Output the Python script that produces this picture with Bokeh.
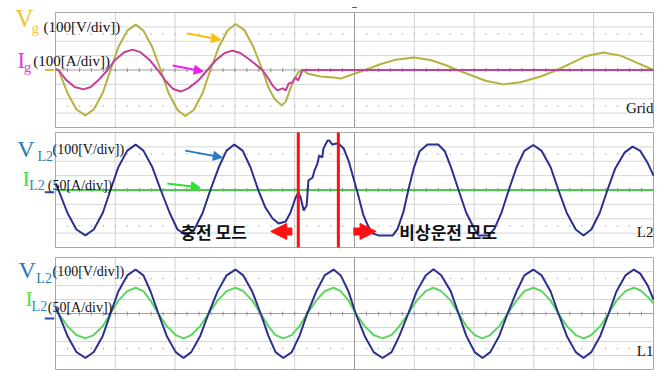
import numpy as np
from bokeh.plotting import figure
from bokeh.layouts import column
from bokeh.models import Range1d, Label, Arrow, NormalHead
from bokeh.embed import file_html
from bokeh.resources import INLINE

# ---------------- data (time in ms, 10 ms/div; voltage in V; current in A) ----------------
# Panel 1: grid voltage / current
grid_t = [0.0, 0.5, 2.0, 3.5, 5.0, 6.4, 7.9, 9.2, 10.5, 12.0,
          13.4, 14.7, 16.2, 17.6, 18.9, 20.4, 21.7, 23.1, 24.6, 25.9,
          27.3, 28.8, 30.1, 31.6, 33.1, 34.6, 35.6, 36.6, 37.8, 38.5,
          39.3, 39.8, 40.6, 41.3, 42.1, 44.3, 46.5, 47.7, 49.7, 51.8,
          54.3, 56.9, 59.9, 62.7, 65.2, 67.2, 69.4, 71.9, 74.9, 77.8,
          81.1, 83.9, 86.1, 88.6, 91.6, 94.5, 97.0, 100.0]
grid_v = [5, 0, -160, -275, -316, -275, -160, 0, 158, 274,
          316, 274, 158, 0, -160, -278, -320, -278, -160, 0,
          160, 277, 320, 277, 160, 0, -120, -200, -246, -220,
          -128, -73, -17, 3, -24, -45, -52, -59, -30, 0,
          40, 72, 87, 70, 35, 0, -35, -75, -100, -85,
          -45, 0, 45, 95, 122, 100, 55, 0]
grid_i_t = [0.0, 0.5, 1.8, 3.2, 4.7, 5.9, 7.2, 8.7, 10.0, 11.5,
            12.9, 14.2, 15.7, 17.1, 18.4, 19.6, 20.9, 22.2, 23.9, 25.4,
            26.8, 28.3, 29.6, 30.9, 32.6, 34.6, 35.6, 36.3, 37.1, 38.0,
            38.5, 39.0, 39.6, 40.1, 40.6, 41.3, 100.0]
grid_i = [5, 0, -70, -118, -135, -118, -70, 0, 72, 124,
          142, 124, 72, 0, -75, -130, -150, -128, -72, 0,
          68, 118, 135, 118, 68, 0, -60, -108, -142, -128,
          -142, -94, -87, -52, -73, 0, 0]

# Panel 2: load L2 voltage / current during mode transfer
l2_t = [0.0, 0.5, 2.0, 3.5, 5.0, 6.4, 7.9, 9.2, 10.5, 12.0,
        13.4, 14.7, 16.2, 17.6, 19.1, 20.4, 21.9, 23.2, 24.6, 25.9,
        27.3, 28.6, 29.9, 31.3, 32.6, 33.9, 35.1, 36.3, 37.3, 38.5,
        39.3, 40.1, 40.6, 41.0, 41.5, 42.0, 42.3, 43.0, 43.3, 43.8,
        44.1, 44.6, 44.8, 45.5, 45.8, 46.3, 47.0, 47.3, 48.2, 49.0,
        50.5, 51.5, 52.3, 53.0, 54.0, 56.4, 57.2, 58.2, 59.0, 59.9,
        60.9, 62.2, 64.0, 65.1, 66.2, 67.4, 68.7, 70.1, 70.7, 72.4,
        73.4, 74.6, 75.8, 77.1, 78.4, 79.9, 81.3, 82.8, 84.1, 85.5,
        87.0, 88.3, 89.6, 91.0, 92.3, 93.6, 95.2, 96.5, 97.8, 99.0,
        100.0]
l2_v = [45, 0, -160, -275, -316, -275, -160, 0, 158, 274,
        316, 274, 158, 0, -160, -275, -316, -275, -160, 0,
        158, 274, 316, 274, 158, 0, -122, -198, -233, -219,
        -156, -59, -17, -52, -142, -108, 66, 87, 135, 184,
        240, 226, 288, 344, 344, 316, 323, 323, 288, 205,
        -17, -177, -253, -302, -316, -316, -270, -150, 0, 150,
        270, 316, 316, 270, 150, 0, -160, -275, -316, -316,
        -270, -155, 0, 158, 272, 313, 272, 158, 0, -160,
        -275, -316, -275, -160, 0, 150, 262, 302, 272, 190,
        100]
l2_i_t = [0.0, 100.0]
l2_i = [0, 0]
mode_switch_t = [40.6, 47.3]

# Panel 3: load L1 voltage / current
l1_t = [0.0, 0.5, 2.0, 3.5, 5.0, 6.4, 7.9, 9.2, 10.5, 12.0,
        13.4, 14.7, 15.9, 17.2, 18.6, 20.1, 21.4, 22.7, 24.2, 25.6,
        27.1, 28.6, 30.1, 31.4, 32.9, 34.3, 35.6, 36.8, 38.1, 39.5,
        40.8, 42.1, 43.6, 45.0, 46.5, 47.7, 49.0, 50.2, 51.7, 53.2,
        54.7, 56.2, 57.5, 59.0, 60.4, 61.9, 63.2, 64.5, 66.1, 67.4,
        68.7, 70.1, 71.4, 72.7, 74.2, 75.6, 77.1, 78.4, 79.9, 81.3,
        82.8, 84.1, 85.5, 87.0, 88.3, 89.6, 91.1, 92.5, 93.8, 95.3,
        96.7, 97.8, 99.0, 100.0]
l1_v = [45, 0, -160, -275, -318, -275, -160, 0, 157, 272,
        314, 272, 157, 0, -160, -276, -318, -276, -160, 0,
        158, 272, 314, 272, 157, 0, -160, -276, -318, -276,
        -160, 0, 157, 272, 314, 272, 157, 0, -160, -276,
        -318, -276, -160, 0, 158, 272, 316, 273, 158, 0,
        -160, -276, -318, -276, -160, 0, 157, 272, 314, 272,
        157, 0, -160, -276, -318, -276, -160, 0, 157, 272,
        314, 285, 202, 100]
l1_i = [12, 0, -45, -77, -89, -77, -45, 0, 46, 80,
        92, 80, 46, 0, -45, -77, -89, -77, -45, 0,
        46, 80, 92, 80, 46, 0, -45, -77, -89, -77,
        -45, 0, 46, 80, 92, 80, 46, 0, -45, -77,
        -89, -77, -45, 0, 46, 80, 92, 80, 46, 0,
        -45, -77, -89, -77, -45, 0, 46, 80, 92, 80,
        46, 0, -45, -77, -89, -77, -45, 0, 46, 80,
        92, 83, 60, 36]

SERIF = "Liberation Serif"
KR = "Noto Sans CJK KR"

C_VG = "#b5b140"
C_IG = "#c2409a"
C_VL = "#2b2f8f"
C_IL = "#4cc84c"
C_IL3 = "#5cd65c"

W = 669
LEFT_PX, SCOPE_PX = 55, 598          # scope screen starts at x=55 and is 598 px wide
PX_PER_MS = SCOPE_PX / 100.0


def make_panel(height, top_px, bottom_px, i_span):
    scope_h = height - top_px - bottom_px
    dpp = 800.0 / scope_h
    x0 = -LEFT_PX / PX_PER_MS
    x1 = 100 + (W - LEFT_PX - SCOPE_PX) / PX_PER_MS
    p = figure(width=W, height=height, x_range=Range1d(x0, x1),
               y_range=Range1d(-400 - bottom_px * dpp, 400 + top_px * dpp),
               output_backend="svg", toolbar_location=None,
               min_border_left=0, min_border_right=0, min_border_top=0, min_border_bottom=0)
    k = i_span / 400.0
    p.extra_y_ranges = {"i": Range1d((-400 - bottom_px * dpp) * k, (400 + top_px * dpp) * k)}
    p.axis.visible = False
    p.grid.visible = False
    p.outline_line_color = None
    p.background_fill_color = "white"
    p.border_fill_color = "white"
    # oscilloscope graticule
    hx = np.arange(-300, 301, 100)
    hx = hx[hx != 0]
    p.segment(x0=np.zeros(len(hx)), y0=hx, x1=np.full(len(hx), 100), y1=hx,
              line_color="#acacac", line_width=1, line_dash="1 1")
    vx = np.arange(10, 100, 10)
    vx = vx[vx != 50]
    p.segment(x0=vx, y0=np.full(len(vx), -400), x1=vx, y1=np.full(len(vx), 400),
              line_color="#d0d0d0", line_width=1)
    p.segment(x0=[50], y0=[-400], x1=[50], y1=[400], line_color="#9a9a9a", line_width=1)
    p.segment(x0=[0], y0=[0], x1=[100], y1=[0], line_color="#a0a0a0", line_width=1)
    ticks = np.arange(2, 100, 2)
    p.segment(x0=ticks, y0=np.full(len(ticks), -14), x1=ticks, y1=np.full(len(ticks), 14),
              line_color="#909090", line_width=1)
    dots = np.arange(2, 100, 2)
    for yy in (250, -250):
        p.scatter(x=dots, y=np.full(len(dots), yy), size=1.6, color="#b0b0b0", line_color=None)
    p.quad(left=[0], right=[100], bottom=[-400], top=[400], fill_color=None,
           line_color="#a8a8a8", line_width=1)
    return p


def lab(p, x, y, text, size, color, font=SERIF, style="normal", align="left"):
    p.add_layout(Label(x=x, y=y, text=text, text_font=font, text_font_size=size,
                       text_color=color, text_baseline="middle", text_align=align,
                       text_font_style=style))


def pointer(p, xs, ys, xe, ye, color, width=2, head=9):
    p.add_layout(Arrow(end=NormalHead(size=head, fill_color=color, line_color=color),
                       x_start=xs, y_start=ys, x_end=xe, y_end=ye,
                       line_color=color, line_width=width))


def marker(p, y, color):
    # channel ground marker on the left edge of the screen
    p.segment(x0=[-1.8], y0=[y], x1=[-0.2], y1=[y], line_color=color, line_width=2)


# ---------------- panel 1 ----------------
p1 = make_panel(129, 12, 2, 400)
marker(p1, 0, "#d8c040")
p1.line(grid_t, grid_v, line_color=C_VG, line_width=2)
p1.line(grid_i_t, grid_i, line_color=C_IG, line_width=2)
p1.segment(x0=[49.6], y0=[435], x1=[50.4], y1=[435], line_color="#555555", line_width=1)
lab(p1, -6.7, 355, "V", "25px", "#f2c335")
lab(p1, -4.0, 292, "g", "15px", "#f2c335")
lab(p1, -2.0, 300, "(100[V/div])", "15px", "#111111")
lab(p1, -6.4, 72, "I", "24px", "#e83ee0")
lab(p1, -5.3, 22, "g", "15px", "#e83ee0")
lab(p1, -3.7, 64, "(100[A/div])", "15px", "#111111")
pointer(p1, 22.1, 254, 27.6, 210, "#f5c010")
pointer(p1, 19.6, 31, 24.7, -10, "#f020f0")
lab(p1, 100, -267, "Grid", "15px", "#111111", align="right")

# ---------------- panel 2 ----------------
p2 = make_panel(121, 3, 3, 200)
marker(p2, -15, "#2a4ab0")
p2.line(l2_i_t, l2_i, line_color=C_IL, line_width=2, y_range_name="i")
p2.line(l2_t, l2_v, line_color=C_VL, line_width=2)
for t in mode_switch_t:
    p2.segment(x0=[t], y0=[-400], x1=[t], y1=[400], line_color="#ff1010", line_width=3)
lab(p2, -6.4, 285, "V", "24px", "#2a78b8")
lab(p2, -3.0, 230, "L2", "14px", "#2a78b8")
lab(p2, -0.5, 280, "(100[V/div])", "14px", "#111111")
lab(p2, -5.5, 82, "I", "22px", "#3ee03e")
lab(p2, -4.4, 30, "L2", "14px", "#2a88c0")
lab(p2, -1.3, 30, "(50[A/div])", "14px", "#111111")
pointer(p2, 21.7, 274, 27.9, 226, "#2a7ac8")
pointer(p2, 18.7, 45, 24.2, 17, "#30e030")
pointer(p2, 39.6, -288, 36.0, -288, "#ff1010", width=8, head=16)
pointer(p2, 49.8, -288, 53.6, -288, "#ff1010", width=8, head=16)
lab(p2, 20.9, -290, "충전 모드", "17px", "#111111", font=KR, style="bold")
lab(p2, 57.5, -290, "비상운전 모도", "17px", "#111111", font=KR, style="bold")
lab(p2, 100, -290, "L2", "15px", "#111111", align="right")

# ---------------- panel 3 ----------------
p3 = make_panel(120, 7, 1, 200)
marker(p3, -36, "#2a4ab0")
p3.line(l1_t, l1_i, line_color=C_IL3, line_width=2, y_range_name="i")
p3.line(l1_t, l1_v, line_color=C_VL, line_width=2)
lab(p3, -6.2, 310, "V", "24px", "#2a78b8")
lab(p3, -3.2, 250, "L2", "14px", "#2a78b8")
lab(p3, -0.5, 300, "(100[V/div])", "14px", "#111111")
lab(p3, -5.0, 105, "I", "22px", "#5ee040")
lab(p3, -4.0, 48, "L2", "14px", "#2a88c0")
lab(p3, -1.3, 43, "(50[A/div])", "14px", "#111111")
lab(p3, 100, -271, "L1", "15px", "#111111", align="right")

layout = column(p1, p2, p3, spacing=0)
open("out.html", "w").write(file_html(layout, INLINE))
